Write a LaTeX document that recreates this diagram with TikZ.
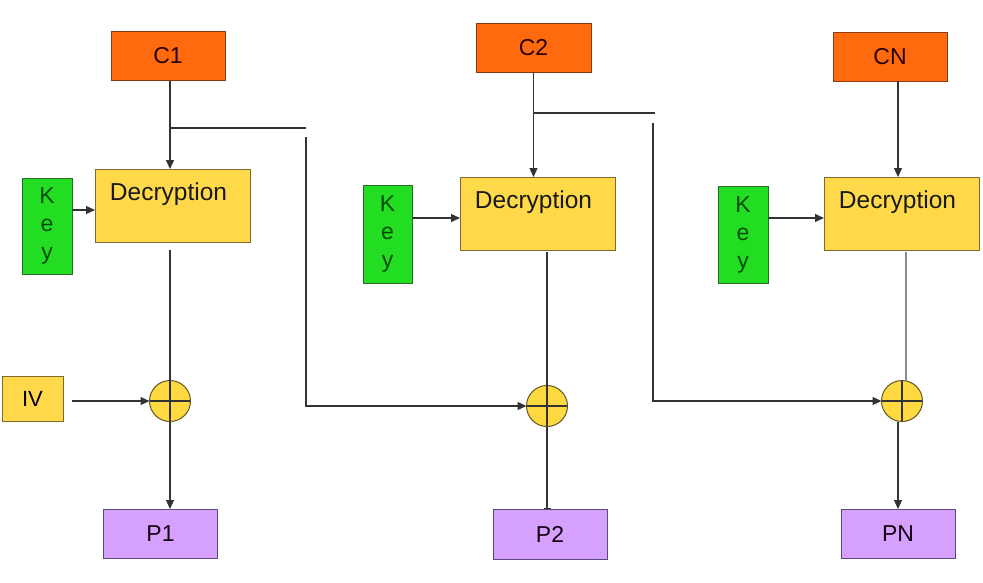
\documentclass[tikz,border=0pt]{standalone}
\usepackage{fontspec}
\setmainfont{Liberation Sans}
\usetikzlibrary{arrows.meta,calc}
\definecolor{cfill}{HTML}{FF6A0E}
\definecolor{cdraw}{HTML}{8A3A10}
\definecolor{dfill}{HTML}{FFD94A}
\definecolor{ddraw}{HTML}{7A6A30}
\definecolor{kfill}{HTML}{22DD22}
\definecolor{kdraw}{HTML}{2A6A2A}
\definecolor{pfill}{HTML}{D6A0FF}
\definecolor{pdraw}{HTML}{5A4A7A}
\definecolor{xfill}{HTML}{FFD940}
\definecolor{linec}{HTML}{333333}
\definecolor{lightline}{HTML}{8A8A8A}
\begin{document}
\begin{tikzpicture}[x=1pt,y=-1pt,
  box/.style={draw, line width=0.9pt, inner sep=0pt, outer sep=0pt},
  cbox/.style={box, fill=cfill, draw=cdraw, minimum width=114pt, minimum height=49pt,
    font=\fontsize{23}{26}\selectfont, text=black!85!red},
  dbox/.style={box, fill=dfill, draw=ddraw, minimum width=155pt, minimum height=73pt},
  kbox/.style={box, fill=kfill, draw=kdraw, minimum width=50pt, minimum height=97pt,
    align=center, font=\fontsize{23}{28}\selectfont, text=black!70!green},
  pbox/.style={box, fill=pfill, draw=pdraw, minimum width=114pt, minimum height=49pt,
    font=\fontsize{23}{26}\selectfont, text=black!85!violet},
  ivbox/.style={box, fill=dfill, draw=ddraw, minimum width=61pt, minimum height=45pt,
    font=\fontsize{22}{26}\selectfont},
  xorc/.style={circle, draw=ddraw!80!black, line width=1pt, fill=xfill, minimum size=41pt,
    inner sep=0pt, outer sep=0pt,
    path picture={\draw[linec, line width=1.1pt]
      (path picture bounding box.north) -- (path picture bounding box.south)
      (path picture bounding box.west) -- (path picture bounding box.east);}},
  dlabel/.style={anchor=north, yshift=-10pt, xshift=-4pt, font=\fontsize{24.5}{27}\selectfont, text=black!90},
  conn/.style={draw=linec, line width=1.2pt},
  arr/.style={conn, -{Triangle[length=9pt,width=8pt]}},
]
\useasboundingbox[fill=white] (0,0) rectangle (983,582);

% column 1
\node[cbox] (C1) at (168,56) {C1};
\node[dbox, label={[dlabel]north:Decryption}] (D1) at (172.5,205.5) {};
\node[kbox, minimum height=96pt] (K1) at (47,226) {K\\e\\y};
\node[ivbox] (IV) at (32.5,398.5) {IV};
\node[xorc] (X1) at (170,401) {};
\node[pbox] (P1) at (160.5,533.5) {P1};

% column 2
\node[cbox, minimum width=115pt] (C2) at (533.5,47.5) {C2};
\node[dbox, label={[dlabel]north:Decryption}] (D2) at (537.5,213.5) {};
\node[kbox, minimum width=49pt, minimum height=98pt] (K2) at (387.5,234) {K\\e\\y};
\node[xorc] (X2) at (547,406) {};
\node[pbox, minimum height=50pt] (P2) at (550,534) {P2};

% column 3
\node[cbox] (CN) at (890,56.5) {CN};
\node[dbox, label={[dlabel]north:Decryption}] (D3) at (901.5,213.5) {};
\node[kbox] (K3) at (743,234.5) {K\\e\\y};
\node[xorc] (X3) at (902,401) {};
\node[pbox] (PN) at (898,533.5) {PN};

% branch coordinates
\coordinate (b1) at (170,128);
\coordinate (e1) at (306,128);
\coordinate (v1) at (306,137);
\coordinate (b2) at (533,113);
\coordinate (e2) at (655,113);
\coordinate (v2) at (653,123);

% column 1 connectors
\draw[arr] (X1 |- C1.south) -- (X1 |- D1.north);
\draw[conn] (b1) -- (e1);
\draw[arr] ([yshift=16pt]K1.east) -- ([yshift=16pt]K1.east -| D1.west);
\draw[conn] ([yshift=-8pt]X1 |- D1.south) -- (X1.north);
\draw[arr] ([xshift=9pt]IV.east |- X1.west) -- (X1.west);
\draw[arr] (X1.south) -- (X1 |- P1.north);
\draw[arr] (v1) |- (X2.west);

% column 2 connectors
\draw[arr] (C2.south) -- (C2.south |- D2.north);
\draw[conn] (b2) -- (e2);
\draw[arr] ([yshift=16pt]K2.east) -- ([yshift=16pt]K2.east -| D2.west);
\draw[conn] ([yshift=-2pt]X2 |- D2.south) -- (X2.north);
\draw[conn, -{Bar[width=7pt,line width=1pt]}] (X2.south) -- (X2 |- P2.north);
\draw[arr] (v2) |- (X3.west);

% column 3 connectors
\draw[arr] ([xshift=8pt]CN.south) -- ([xshift=8pt]CN.south |- D3.north);
\draw[arr] ([yshift=16.5pt]K3.east) -- ([yshift=16.5pt]K3.east -| D3.west);
\draw[draw=lightline, line width=1.1pt] ([xshift=4pt,yshift=-2pt]X3 |- D3.south) -- ([xshift=4pt]X3.north);
\draw[arr] ([xshift=-4pt]X3.south) -- ([xshift=-4pt]X3.south |- PN.north);
\end{tikzpicture}
\end{document}
